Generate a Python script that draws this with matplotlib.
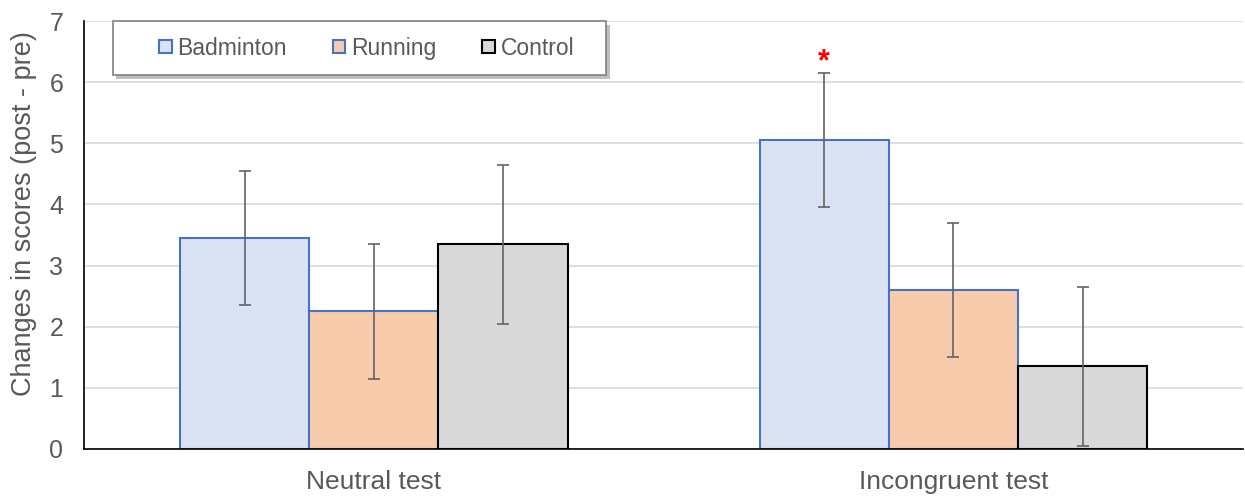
import numpy as np
import matplotlib.pyplot as plt
from matplotlib.patches import Rectangle

plt.rcParams['font.family'] = ['Liberation Sans', 'DejaVu Sans']

tests = ['Neutral test', 'Incongruent test']
groups = ['Badminton', 'Running', 'Control']
means = {
    'Badminton': [3.45, 5.05],
    'Running': [2.25, 2.6],
    'Control': [3.35, 1.35],
}
errors = {
    'Badminton': [1.1, 1.1],
    'Running': [1.1, 1.1],
    'Control': [1.3, 1.3],
}
fills = {'Badminton': '#DAE3F3', 'Running': '#F8CBAD', 'Control': '#D9D9D9'}
edges = {'Badminton': '#4472C4', 'Running': '#4472C4', 'Control': '#000000'}

text_col = '#595959'

fig = plt.figure(figsize=(12.45, 4.97), dpi=100)
ax = fig.add_axes([0.0675, 0.0966, 0.931, 0.8611])

x = np.arange(len(tests))
w = 0.223
for i, g in enumerate(groups):
    ax.bar(x + (i - 1) * w, means[g], w, color=fills[g], edgecolor=edges[g],
           linewidth=1.5, label=g, zorder=2)
    ax.errorbar(x + (i - 1) * w, means[g], yerr=errors[g], fmt='none',
                ecolor='#636363', elinewidth=1.2, capsize=4, capthick=1.2, zorder=3)

# significance marker above incongruent badminton
ax.text(x[1] - w, means['Badminton'][1] + errors['Badminton'][1] - 0.07, '*',
        color='red', fontsize=22, fontweight='bold', ha='center', va='bottom')

ax.set_xlim(-0.5, 1.5)
ax.set_ylim(0, 7)
ax.set_yticks(range(0, 8))
ax.set_xticks(x)
ax.set_xticklabels(tests)
ax.yaxis.grid(True, color='#D9D9D9', linewidth=1.2, zorder=0)
ax.set_axisbelow(True)
ax.tick_params(axis='x', length=0, labelsize=19, colors=text_col, pad=15)
ax.tick_params(axis='y', length=0, labelsize=18, colors=text_col, pad=15)
for s in ['top', 'right']:
    ax.spines[s].set_visible(False)
ax.spines['left'].set_color('black')
ax.spines['bottom'].set_color('black')
ax.spines['left'].set_linewidth(1.2)
ax.spines['bottom'].set_linewidth(1.2)
ax.set_ylabel('Changes in scores (post - pre)', fontsize=19.5, color=text_col, va='center')
ax.yaxis.set_label_coords(-0.0518, 0.549)

# legend box with shadow
bx, by, bw, bh = 0.025, 0.8738, 0.4254, 0.1262
shadow = Rectangle((bx + 0.003, by - 0.009), bw, bh, transform=ax.transAxes,
                   facecolor='#000000', alpha=0.25, edgecolor='none',
                   clip_on=False, zorder=4)
box = Rectangle((bx, by), bw, bh, transform=ax.transAxes, facecolor='white',
                edgecolor='#7f7f7f', linewidth=1.2, clip_on=False, zorder=5)
ax.add_patch(shadow)
ax.add_patch(box)
leg = ax.legend(loc='center left', bbox_to_anchor=(0.0647, by + bh / 2),
                ncol=3, fontsize=16.5, frameon=False, handlelength=0.55,
                handleheight=0.55, handletextpad=0.25, columnspacing=2.0,
                borderpad=0, borderaxespad=0, labelcolor=text_col)
leg.set_zorder(6)

plt.savefig('out.png', dpi=100)
